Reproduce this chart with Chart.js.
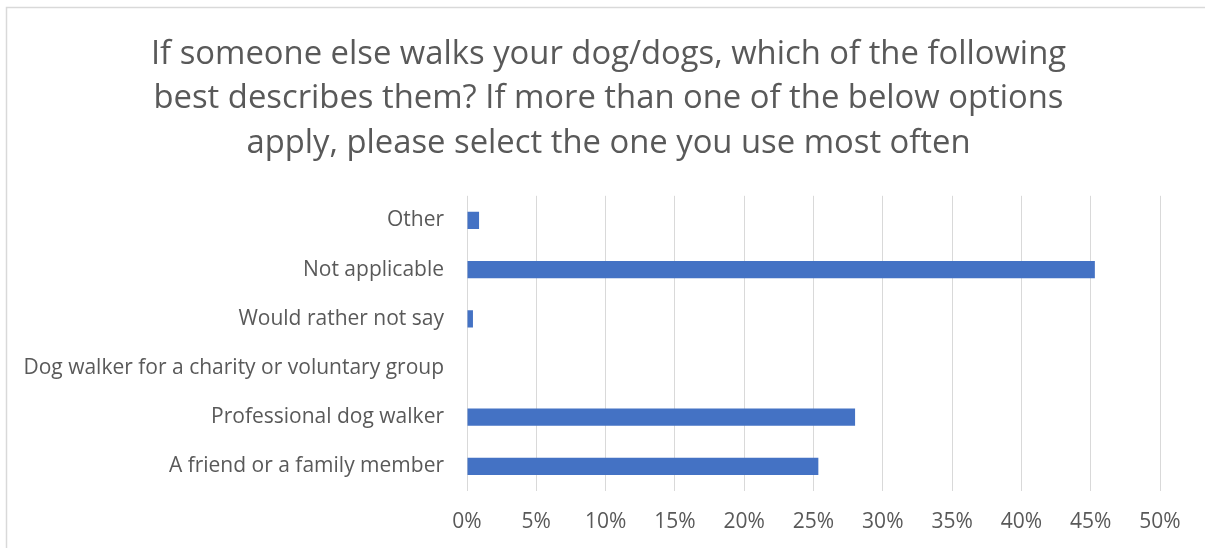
<!DOCTYPE html>
<html>
<head>
<meta charset="utf-8">
<script src="https://cdn.jsdelivr.net/npm/chart.js@4"></script>
<style>
    html, body { margin: 0; padding: 0; background: #ffffff; }
    #wrap { position: relative; width: 1205px; height: 548px; }
</style>
</head>
<body>
<div id="wrap"><canvas id="barChart" width="1205" height="548"></canvas></div>
<script>
// chart data
const titleLines = [
    'If someone else walks your dog/dogs, which of the following',
    'best describes them? If more than one of the below options',
    'apply, please select the one you use most often'
];
const categories = [
    'Other',
    'Not applicable',
    'Would rather not say',
    'Dog walker for a charity or voluntary group',
    'Professional dog walker',
    'A friend or a family member'
];
const shares = [0.87, 45.3, 0.43, 0, 28.0, 25.35];
const tickValues = [0, 5, 10, 15, 20, 25, 30, 35, 40, 45, 50];

const textColor = '#595959';
const fontFamily = '"Open Sans", Lato, sans-serif';

// thin frame like the excel chart area
const framePlugin = {
    id: 'frame',
    beforeDraw(chart) {
        const ctx = chart.ctx;
        ctx.save();
        ctx.fillStyle = '#ffffff';
        ctx.fillRect(0, 0, chart.width, chart.height);
        ctx.strokeStyle = '#d9d9d9';
        ctx.lineWidth = 1.5;
        ctx.beginPath();
        ctx.moveTo(6.5, chart.height);
        ctx.lineTo(6.5, 7.5);
        ctx.lineTo(chart.width, 7.5);
        ctx.stroke();
        ctx.restore();
    }
};

// center the title over the whole frame, not just the padded box
const titleCenterPlugin = {
    id: 'titleCenter',
    afterLayout(chart) {
        const t = chart.titleBlock;
        if (t) {
            t.left = 12;
            t.right = 1205;
            t.width = t.right - t.left;
        }
    }
};

const ctx = document.getElementById('barChart').getContext('2d');
new Chart(ctx, {
    type: 'bar',
    data: {
        labels: categories,
        datasets: [{
            data: shares,
            backgroundColor: '#4472c4',
            borderWidth: 0,
            barPercentage: 0.35,
            categoryPercentage: 1
        }]
    },
    options: {
        indexAxis: 'y',
        responsive: false,
        animation: false,
        layout: {
            padding: { top: 32, left: 10, right: 45, bottom: 9 }
        },
        plugins: {
            legend: { display: false },
            tooltip: { enabled: false },
            title: {
                display: true,
                text: titleLines,
                color: textColor,
                font: { family: fontFamily, size: 32.8, weight: 'normal', lineHeight: 1.36 },
                padding: { top: 0, bottom: 30 }
            }
        },
        scales: {
            x: {
                min: 0,
                max: 50,
                afterBuildTicks: function (scale) {
                    scale.ticks = tickValues.map(v => ({ value: v }));
                },
                afterFit: function (scale) {
                    scale.height = 48;
                },
                grid: { color: '#d9d9d9', lineWidth: 1, drawTicks: false },
                border: { display: false },
                ticks: {
                    color: textColor,
                    padding: 18,
                    font: { family: fontFamily, size: 21 },
                    callback: v => v + '%'
                }
            },
            y: {
                afterFit: function (scale) {
                    scale.width = 457;
                },
                grid: { display: false, drawTicks: false },
                border: { display: false },
                ticks: {
                    color: textColor,
                    padding: 23,
                    font: { family: fontFamily, size: 21 }
                }
            }
        }
    },
    plugins: [framePlugin, titleCenterPlugin]
});
</script>
</body>
</html>
